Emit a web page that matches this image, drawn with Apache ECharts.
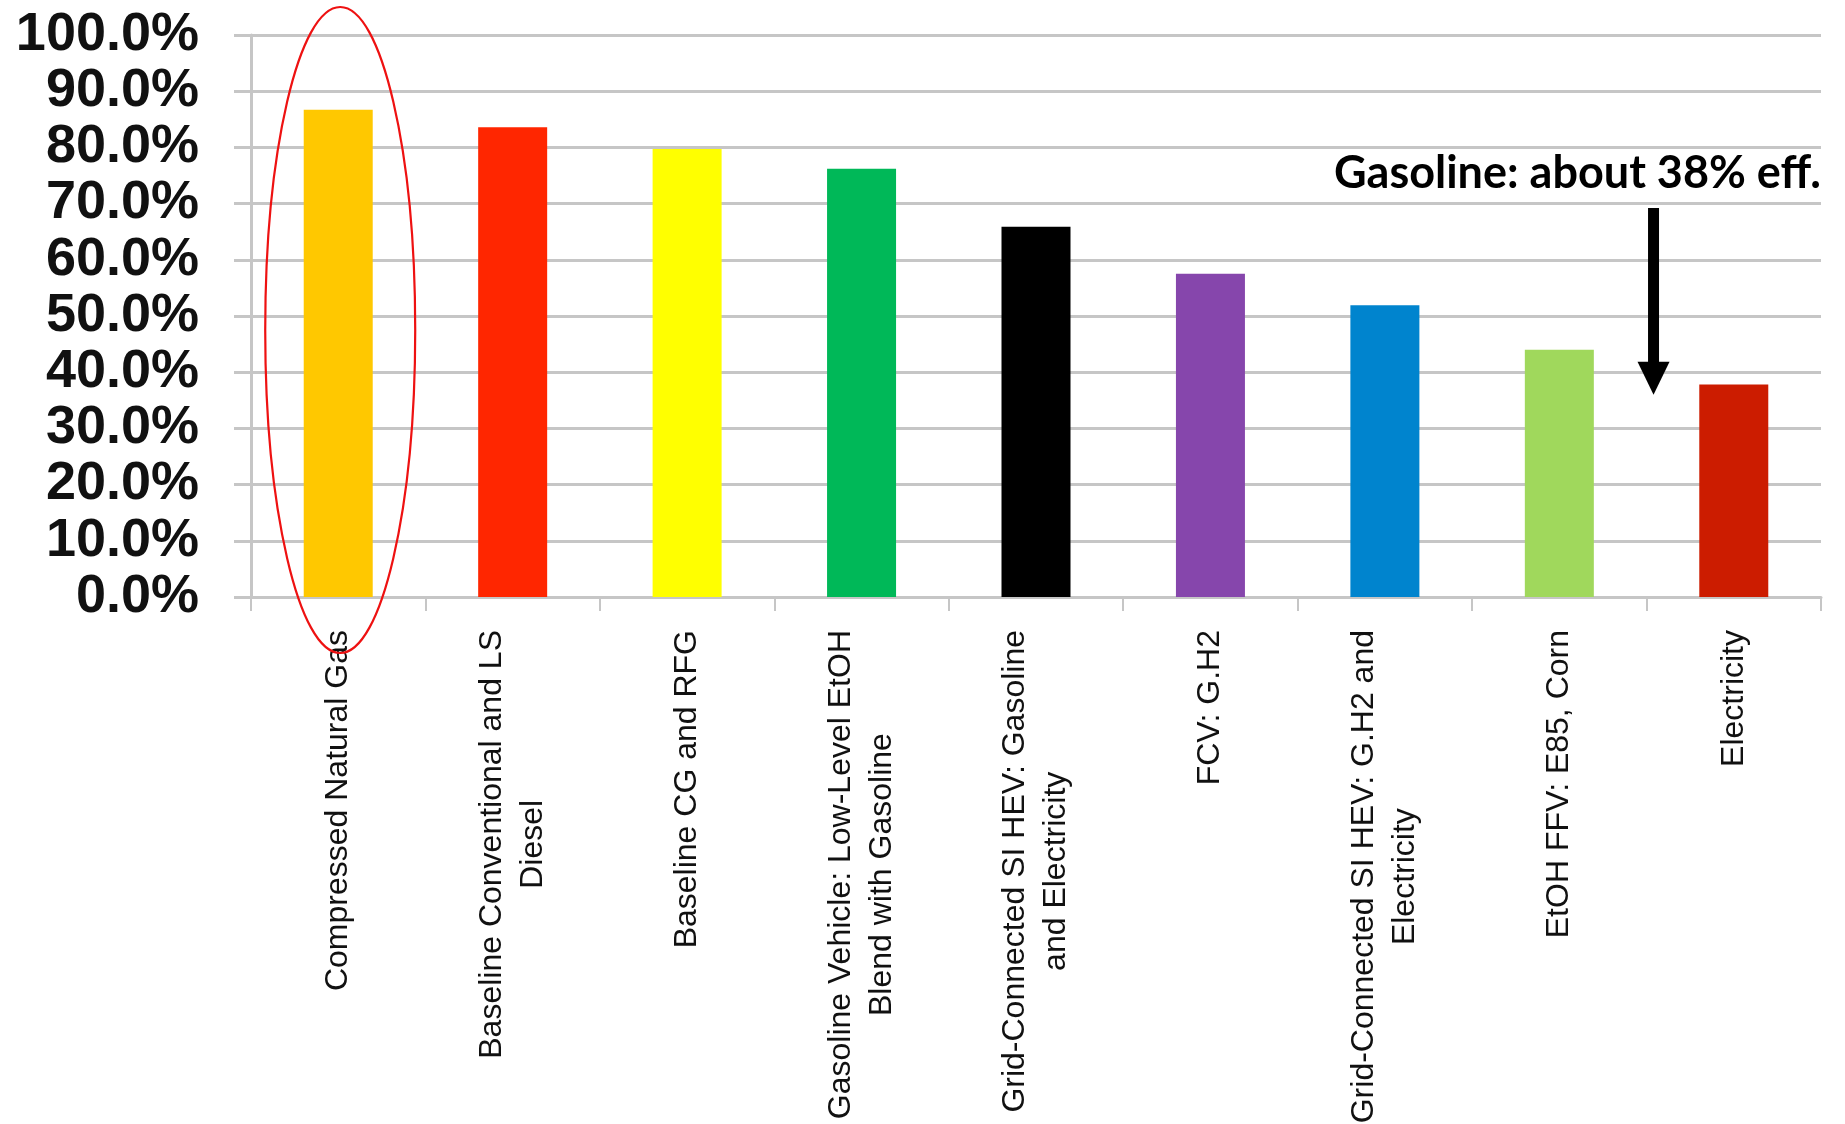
<!DOCTYPE html>
<html>
<head>
<meta charset="utf-8">
<script src="https://cdn.jsdelivr.net/npm/echarts@6/dist/echarts.min.js"></script>
<style>
  html, body { margin: 0; padding: 0; background: #ffffff; }
  #chart { width: 1845px; height: 1124px; }
</style>
</head>
<body>
<div id="chart"></div>
<script>
// ---- Data ----
const categories = [
  'Compressed Natural Gas',
  'Baseline Conventional and LS\nDiesel',
  'Baseline CG and RFG',
  'Gasoline Vehicle: Low-Level EtOH\nBlend with Gasoline',
  'Grid-Connected SI HEV: Gasoline\nand Electricity',
  'FCV: G.H2',
  'Grid-Connected SI HEV: G.H2 and\nElectricity',
  'EtOH FFV: E85, Corn',
  'Electricity'
];
const efficiency = [86.7, 83.6, 79.7, 76.2, 65.9, 57.5, 51.9, 44.0, 37.8];
const barColors = ['#FFC800', '#FF2600', '#FFFF00', '#00B858', '#000000', '#8646AC', '#0084CE', '#A0D85C', '#CC1C00'];
const yTicks = [0, 10, 20, 30, 40, 50, 60, 70, 80, 90, 100];
const annotationText = 'Gasoline: about 38% eff.';
const arrowCategory = 7.54;       // fractional position between categories 8 and 9
const arrowTopValue = 69.2;
const arrowTipValue = 36.0;
const ellipseBar = 0;             // highlighted category index

const chart = echarts.init(document.getElementById('chart'), null, { renderer: 'canvas' });

const gridColor = '#c6c6c6';

const option = {
  backgroundColor: '#ffffff',
  animation: false,
  grid: { left: 251, right: 24, top: 35, bottom: 527, containLabel: false, outerBoundsMode: 'none' },
  xAxis: {
    type: 'category',
    data: categories,
    axisLine: { show: true, lineStyle: { color: gridColor, width: 3 } },
    axisTick: { show: true, length: 14, alignWithLabel: false, lineStyle: { color: gridColor, width: 2 } },
    axisLabel: {
      interval: 0,
      rotate: 90,
      margin: 33,
      color: '#111111',
      fontFamily: 'Liberation Sans',
      fontSize: 32,
      lineHeight: 41,
      formatter: function (v) {
        return v.split('\n').map(function (s) { return '{c|' + s + '}'; }).join('\n');
      },
      rich: {
        c: { align: 'center', fontFamily: 'Liberation Sans', fontSize: 32, lineHeight: 41, color: '#111111' }
      }
    },
    splitLine: { show: false }
  },
  yAxis: {
    type: 'value',
    min: yTicks[0],
    max: yTicks[yTicks.length - 1],
    interval: yTicks[1] - yTicks[0],
    axisLine: { show: true, lineStyle: { color: gridColor, width: 3 } },
    axisTick: { show: true, length: 17, lineStyle: { color: gridColor, width: 3 } },
    axisLabel: {
      margin: 52,
      color: '#111111',
      fontFamily: 'Liberation Sans',
      fontWeight: 'bold',
      fontSize: 54,
      padding: [26, 0, 0, 0],
      formatter: function (v) { return v.toFixed(1) + '%'; }
    },
    splitLine: { show: true, lineStyle: { color: gridColor, width: 3 } }
  },
  series: [{
    type: 'bar',
    data: efficiency.map(function (v, i) { return { value: v, itemStyle: { color: barColors[i] } }; }),
    barWidth: 69,
    z: 3
  }]
};

chart.setOption(option);

function px(pt) { return chart.convertToPixel({ gridIndex: 0 }, pt); }

// interpolate a fractional category position between two category centres
const ci = Math.floor(arrowCategory);
const cf = arrowCategory - ci;
const xA = px([ci, 0])[0], xB = px([ci + 1, 0])[0];
const arrowX = xA + (xB - xA) * cf;
const arrowTopY = px([ci, arrowTopValue])[1];
const arrowTipY = px([ci, arrowTipValue])[1];
const headLen = 33, headHalf = 16;
const eCx = px([ellipseBar, 0])[0] + 2;
const eCy = 330;

chart.setOption({
  graphic: [
    {
      type: 'text',
      right: 24,
      top: 151,
      z: 10,
      style: {
        text: annotationText,
        font: 'bold 45px Lato',
        fill: '#000000'
      }
    },
    {
      type: 'rect',
      z: 10,
      shape: { x: arrowX - 5.5, y: arrowTopY, width: 11, height: (arrowTipY - headLen) - arrowTopY + 2 },
      style: { fill: '#000000' }
    },
    {
      type: 'polygon',
      z: 10,
      shape: { points: [[arrowX - headHalf, arrowTipY - headLen], [arrowX + headHalf, arrowTipY - headLen], [arrowX, arrowTipY]] },
      style: { fill: '#000000' }
    },
    {
      type: 'ellipse',
      z: 20,
      shape: { cx: eCx, cy: eCy, rx: 75, ry: 323 },
      style: { fill: null, stroke: '#ee1111', lineWidth: 2.2 }
    }
  ]
});
</script>
</body>
</html>
